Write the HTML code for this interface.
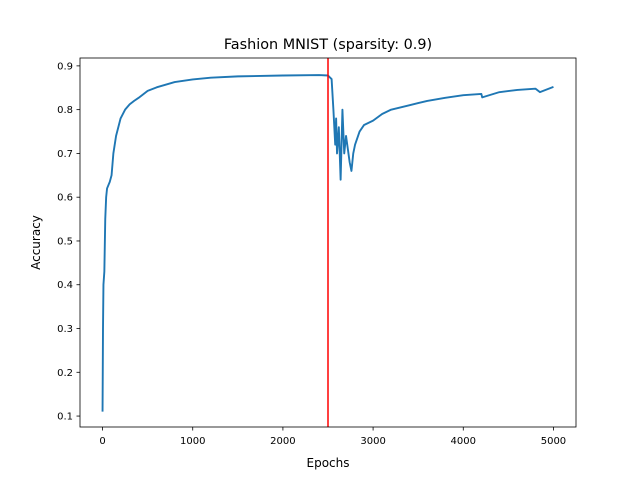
<!DOCTYPE html>
<html><head><meta charset="utf-8"><style>
body{margin:0;background:#fff;font-family:"DejaVu Sans","Liberation Sans",sans-serif;}
svg text{font-family:"DejaVu Sans","Liberation Sans",sans-serif;}
</style></head><body>
<svg id="chart" width="640" height="480" xmlns="http://www.w3.org/2000/svg">
<rect width="640" height="480" fill="#fff"/>
<text x="328" y="49" font-size="14.4" text-anchor="middle">Fashion MNIST (sparsity: 0.9)</text>
<g id="plot"></g>
<rect x="80" y="58" width="496" height="369" fill="none" stroke="#000" stroke-width="0.8"/>
<text x="328" y="467" font-size="12" text-anchor="middle">Epochs</text>
<text transform="translate(40,242.5) rotate(-90)" font-size="12" text-anchor="middle">Accuracy</text>
</svg>
<script>
const epochs=[0,5,10,20,30,40,50,80,100,120,150,200,250,300,350,400,450,500,600,700,800,1000,1200,1500,2000,2400,2500,2540,2560,2580,2590,2600,2620,2640,2660,2680,2700,2720,2740,2760,2780,2800,2850,2900,3000,3100,3200,3400,3500,3600,3800,4000,4200,4210,4400,4600,4800,4850,5000];
const accuracy=[0.11,0.30,0.40,0.43,0.55,0.60,0.62,0.635,0.65,0.70,0.74,0.78,0.80,0.812,0.82,0.827,0.835,0.843,0.851,0.857,0.863,0.869,0.873,0.876,0.878,0.879,0.878,0.870,0.80,0.72,0.78,0.70,0.76,0.64,0.80,0.70,0.74,0.71,0.68,0.66,0.70,0.72,0.75,0.765,0.775,0.79,0.80,0.81,0.815,0.82,0.827,0.833,0.836,0.828,0.84,0.845,0.848,0.840,0.852];
const xTicks=[0,1000,2000,3000,4000,5000];
const yTicks=[0.1,0.2,0.3,0.4,0.5,0.6,0.7,0.8,0.9];
const vline=2500;
const NS="http://www.w3.org/2000/svg";
const x=v=>80+(v+250)/5500*496;
const y=v=>58+(0.918-v)/(0.918-0.075)*369;
const g=document.getElementById('plot');
function mk(t,a){const e=document.createElementNS(NS,t);for(const k in a)e.setAttribute(k,a[k]);g.appendChild(e);return e;}
xTicks.forEach(t=>{
 const l=mk('line',{x1:x(t),x2:x(t),y1:427,y2:430.5,stroke:'#000','stroke-width':0.8});
 
 
 const s=mk('text',{x:x(t),y:444,'font-size':10,'text-anchor':'middle'});s.textContent=t;
 
 
});
yTicks.forEach(t=>{
 const l=mk('line',{x1:76.5,x2:80,y1:y(t),y2:y(t),stroke:'#000','stroke-width':0.8});
 
 
 const s=mk('text',{x:73,y:y(t)+3.5,'font-size':10,'text-anchor':'end'});s.textContent=t.toFixed(1);
 
 
});
const p=mk('polyline',{points:epochs.map((e,i)=>x(e)+','+y(accuracy[i])).join(' '),fill:'none',stroke:'#1f77b4','stroke-width':1.9,'stroke-linejoin':'round'});


const r=mk('line',{x1:x(vline),x2:x(vline),y1:58,y2:427,stroke:'#ff0000','stroke-width':1.5});


</script>
</body></html>
